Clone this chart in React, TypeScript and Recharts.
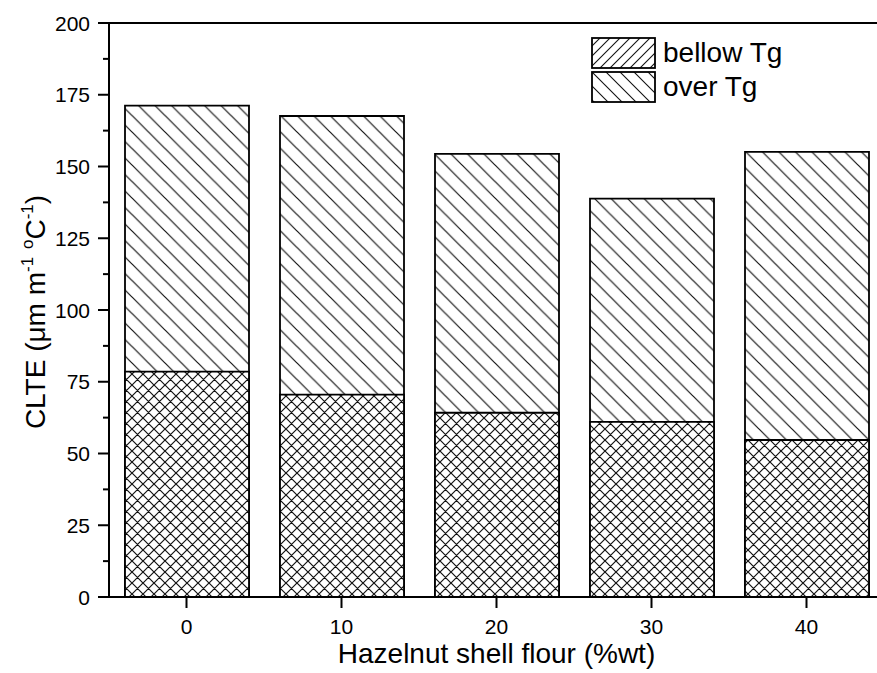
import React from "react"
import {
    BarChart,
    Bar,
    XAxis,
    YAxis,
    Legend,
    ReferenceLine
} from "recharts"

// CLTE values
const categories = ["0", "10", "20", "30", "40"]
const bellowTg = [78.5, 70.5, 64.2, 61.0, 54.7]
const overTg = [171.2, 167.6, 154.4, 138.8, 155.1]
const yTicks = [0, 12.5, 25, 37.5, 50, 62.5, 75, 87.5, 100, 112.5, 125, 137.5, 150, 162.5, 175, 187.5, 200]

const seriesNames = { bellow: "bellow Tg", over: "over Tg" }

const data = categories.map((c, i) => ({
    name: c,
    bellow: bellowTg[i],
    over: overTg[i]
}))

const FONT = "'Liberation Sans', Arial, Helvetica, sans-serif"
const TICK_SIZE = 11
const TICK_MARGIN = 8
const HATCH = "#111"

function YTick(props: any) {
    const { x, y, payload } = props
    const axisX = x + TICK_SIZE + TICK_MARGIN
    const major = payload.value % 25 === 0
    return (
        <g>
            <line
                x1={axisX - (major ? TICK_SIZE : 6)}
                x2={axisX}
                y1={y}
                y2={y}
                stroke="#000"
                strokeWidth={2}
            />
            {major && (
                <text
                    x={x}
                    y={y}
                    dy="0.36em"
                    textAnchor="end"
                    fontSize={21}
                    fontFamily={FONT}
                    fill="#000"
                >
                    {payload.value}
                </text>
            )}
        </g>
    )
}

function YLabel({ viewBox }: any) {
    const cx = viewBox.x + 45
    const cy = viewBox.y + viewBox.height / 2 + 2
    return (
        <text
            transform={`translate(${cx}, ${cy}) rotate(-90)`}
            textAnchor="middle"
            fontSize={28}
            fontFamily={FONT}
            fill="#000"
        >
            CLTE (μm m
            <tspan fontSize={17} dy={-12}>-1</tspan>
            <tspan dy={12}> </tspan>
            <tspan fontSize={17} dy={-12}>o</tspan>
            <tspan dy={12}>C</tspan>
            <tspan fontSize={17} dy={-12}>-1</tspan>
            <tspan dy={12}>)</tspan>
        </text>
    )
}

function XLabel({ viewBox }: any) {
    return (
        <text
            x={viewBox.x + viewBox.width / 2}
            y={viewBox.y + 66}
            textAnchor="middle"
            fontSize={28}
            fontFamily={FONT}
            fill="#000"
        >
            Hazelnut shell flour (%wt)
        </text>
    )
}

function Swatch({ id, back }: { id: string; back: boolean }) {
    const s = back ? 14 : 10
    const d = back
        ? `M0,0 L${s},${s} M${-s / 2},${s / 2} L${s / 2},${s * 1.5} M${s / 2},${-s / 2} L${s * 1.5},${s / 2}`
        : `M0,${s} L${s},0 M${-s / 2},${s / 2} L${s / 2},${-s / 2} M${s / 2},${s * 1.5} L${s * 1.5},${s / 2}`
    return (
        <svg width={65} height={32} style={{ display: "block" }}>
            <defs>
                <pattern id={id} width={s} height={s} patternUnits="userSpaceOnUse">
                    <path d={d} stroke={HATCH} strokeWidth={1.1} />
                </pattern>
            </defs>
            <rect x={1} y={1} width={63} height={30} fill="#fff" />
            <rect x={1} y={1} width={63} height={30} fill={`url(#${id})`} stroke="#000" strokeWidth={1.8} />
        </svg>
    )
}

function LegendBox() {
    const rows = [
        { key: "bellow", back: false },
        { key: "over", back: true }
    ]
    return (
        <div style={{ display: "flex", flexDirection: "column", gap: 2 }}>
            {rows.map((r) => (
                <div key={r.key} style={{ display: "flex", alignItems: "center" }}>
                    <Swatch id={`lg-${r.key}`} back={r.back} />
                    <span
                        style={{
                            fontFamily: FONT,
                            fontSize: 28,
                            lineHeight: "32px",
                            marginLeft: 7,
                            color: "#000"
                        }}
                    >
                        {seriesNames[r.key as "bellow" | "over"]}
                    </span>
                </div>
            ))}
        </div>
    )
}

export default function App() {
    return (
        <div
            style={{
                position: "absolute",
                left: 0,
                top: 0,
                width: 877,
                height: 673,
                overflow: "hidden",
                background: "#fff"
            }}
        >
            <BarChart
                width={890}
                height={673}
                data={data}
                margin={{ top: 23, right: 6, bottom: 0, left: 0 }}
                barGap={-124}
                barCategoryGap={0}
            >
                <defs>
                    <pattern id="hatchBack" width={16.5} height={16.5} patternUnits="userSpaceOnUse">
                        <path
                            d="M0,0 L16.5,16.5 M-8.25,8.25 L8.25,24.75 M8.25,-8.25 L24.75,8.25"
                            stroke={HATCH}
                            strokeWidth={1.2}
                        />
                    </pattern>
                    <pattern id="hatchCross" width={11} height={11} patternUnits="userSpaceOnUse">
                        <rect width={11} height={11} fill="#fff" />
                        <path
                            d="M0,0 L11,11 M-5.5,5.5 L5.5,16.5 M5.5,-5.5 L16.5,5.5 M0,11 L11,0 M-5.5,5.5 L5.5,-5.5 M5.5,16.5 L16.5,5.5"
                            stroke={HATCH}
                            strokeWidth={1.2}
                        />
                    </pattern>
                </defs>
                <XAxis
                    dataKey="name"
                    height={76}
                    tickSize={11}
                    tickMargin={11}
                    tick={{ fontSize: 21, fontFamily: FONT, fill: "#000" }}
                    tickLine={{ stroke: "#000", strokeWidth: 2 }}
                    axisLine={{ stroke: "#000", strokeWidth: 2 }}
                    label={<XLabel />}
                />
                <YAxis
                    domain={[0, 200]}
                    ticks={yTicks}
                    interval={0}
                    width={109}
                    tickSize={TICK_SIZE}
                    tickMargin={TICK_MARGIN}
                    tickLine={false}
                    tick={<YTick />}
                    axisLine={{ stroke: "#000", strokeWidth: 2 }}
                    label={<YLabel />}
                />
                <ReferenceLine y={200} stroke="#000" strokeWidth={2} />
                <Bar
                    dataKey="over"
                    name={seriesNames.over}
                    barSize={124}
                    fill="url(#hatchBack)"
                    stroke="#000"
                    strokeWidth={1.8}
                    isAnimationActive={false}
                />
                <Bar
                    dataKey="bellow"
                    name={seriesNames.bellow}
                    barSize={124}
                    fill="url(#hatchCross)"
                    stroke="#000"
                    strokeWidth={1.8}
                    isAnimationActive={false}
                />
                <Legend
                    layout="horizontal"
                    verticalAlign="middle"
                    align="center"
                    content={<LegendBox />}
                    wrapperStyle={{ left: 591, top: 37, width: 250, height: 70 }}
                />
            </BarChart>
        </div>
    )
}
